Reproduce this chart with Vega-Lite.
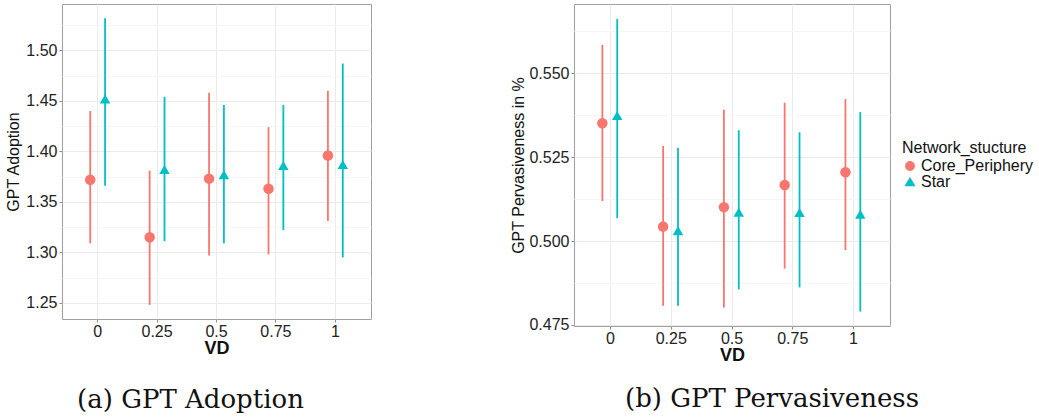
{
  "$schema": "https://vega.github.io/schema/vega-lite/v6.json",
  "background": "white",
  "padding": {"left": 5, "top": 3, "right": 0, "bottom": 0},
  "spacing": 138,
  "config": {
    "font": "Liberation Sans",
    "view": {"stroke": "#a0a0a0", "strokeWidth": 1},
    "axis": {"domain": false, "tickColor": "#8a8a8a", "tickSize": 3, "labelFontSize": 16, "labelColor": "#222", "titleFontSize": 16, "titleColor": "#111", "titleFontWeight": "normal", "gridColor": "#EBEBEB", "gridWidth": 1}
  },
  "datasets": {
    "adoption": [
      {"VD": "0", "Network": "Core_Periphery", "mean": 1.372, "lo": 1.309, "hi": 1.440},
      {"VD": "0", "Network": "Star", "mean": 1.452, "lo": 1.366, "hi": 1.532},
      {"VD": "0.25", "Network": "Core_Periphery", "mean": 1.315, "lo": 1.248, "hi": 1.381},
      {"VD": "0.25", "Network": "Star", "mean": 1.382, "lo": 1.311, "hi": 1.454},
      {"VD": "0.5", "Network": "Core_Periphery", "mean": 1.373, "lo": 1.297, "hi": 1.458},
      {"VD": "0.5", "Network": "Star", "mean": 1.377, "lo": 1.309, "hi": 1.446},
      {"VD": "0.75", "Network": "Core_Periphery", "mean": 1.363, "lo": 1.298, "hi": 1.424},
      {"VD": "0.75", "Network": "Star", "mean": 1.386, "lo": 1.322, "hi": 1.446},
      {"VD": "1", "Network": "Core_Periphery", "mean": 1.396, "lo": 1.331, "hi": 1.460},
      {"VD": "1", "Network": "Star", "mean": 1.387, "lo": 1.295, "hi": 1.487}
    ],
    "pervasiveness": [
      {"VD": "0", "Network": "Core_Periphery", "mean": 0.5351, "lo": 0.5119, "hi": 0.5584},
      {"VD": "0", "Network": "Star", "mean": 0.5374, "lo": 0.5068, "hi": 0.5661},
      {"VD": "0.25", "Network": "Core_Periphery", "mean": 0.5043, "lo": 0.4807, "hi": 0.5283},
      {"VD": "0.25", "Network": "Star", "mean": 0.5031, "lo": 0.4807, "hi": 0.5278},
      {"VD": "0.5", "Network": "Core_Periphery", "mean": 0.5101, "lo": 0.4802, "hi": 0.5391},
      {"VD": "0.5", "Network": "Star", "mean": 0.5086, "lo": 0.4856, "hi": 0.5330},
      {"VD": "0.75", "Network": "Core_Periphery", "mean": 0.5167, "lo": 0.4918, "hi": 0.5412},
      {"VD": "0.75", "Network": "Star", "mean": 0.5085, "lo": 0.4862, "hi": 0.5324},
      {"VD": "1", "Network": "Core_Periphery", "mean": 0.5205, "lo": 0.4973, "hi": 0.5423},
      {"VD": "1", "Network": "Star", "mean": 0.5080, "lo": 0.4790, "hi": 0.5384}
    ]
  },
  "resolve": {"legend": {"color": "independent", "shape": "independent"}},
  "hconcat": [
    {
      "width": 309,
      "height": 315,
      "data": {"name": "adoption"},
      "title": {"text": "(a) GPT Adoption", "orient": "bottom", "font": "DejaVu Serif", "fontSize": 26, "fontWeight": "normal", "color": "#111", "offset": 30, "anchor": "middle", "frame": "group", "dx": -26},
      "encoding": {
        "x": {"field": "VD", "type": "ordinal", "sort": ["0", "0.25", "0.5", "0.75", "1"], "scale": {"type": "band", "paddingInner": 0, "paddingOuter": 0.1}, "axis": {"title": "VD", "labelAngle": 0, "titleFontWeight": "bold", "titleFontSize": 18, "grid": true, "titlePadding": 0, "labelPadding": 1}},
        "xOffset": {"field": "Network", "type": "nominal", "scale": {"paddingInner": 0, "paddingOuter": 1}},
        "color": {"field": "Network", "type": "nominal", "scale": {"domain": ["Core_Periphery", "Star"], "range": ["#F8766D", "#00BFC4"]}, "legend": null}
      },
      "layer": [
        {
          "mark": {"type": "rule", "strokeWidth": 1.8},
          "encoding": {
            "y": {"field": "lo", "type": "quantitative", "scale": {"domain": [1.234, 1.546], "nice": false, "zero": false}, "axis": {"orient": "left", "values": [1.275, 1.325, 1.375, 1.425, 1.475, 1.525], "grid": true, "gridColor": "#F6F6F6", "labels": false, "ticks": false, "title": null}},
            "y2": {"field": "hi"}
          }
        },
        {
          "mark": {"type": "point", "filled": true, "size": 110, "opacity": 1},
          "encoding": {
            "y": {"field": "mean", "type": "quantitative", "axis": {"orient": "left", "title": "GPT Adoption", "values": [1.25, 1.30, 1.35, 1.40, 1.45, 1.50], "format": ".2f", "grid": true, "titlePadding": 4, "labelPadding": 2}},
            "shape": {"field": "Network", "type": "nominal", "scale": {"domain": ["Core_Periphery", "Star"], "range": ["circle", "triangle-up"]}, "legend": null}
          }
        }
      ],
      "resolve": {"axis": {"y": "independent"}}
    },
    {
      "width": 316,
      "height": 322,
      "data": {"name": "pervasiveness"},
      "title": {"text": "(b) GPT Pervasiveness", "orient": "bottom", "font": "DejaVu Serif", "fontSize": 26, "fontWeight": "normal", "color": "#111", "offset": 22, "anchor": "middle", "frame": "group", "dx": 40},
      "encoding": {
        "x": {"field": "VD", "type": "ordinal", "sort": ["0", "0.25", "0.5", "0.75", "1"], "scale": {"type": "band", "paddingInner": 0, "paddingOuter": 0.1}, "axis": {"title": "VD", "labelAngle": 0, "titleFontWeight": "bold", "titleFontSize": 18, "grid": true, "titlePadding": 0, "labelPadding": 1}},
        "xOffset": {"field": "Network", "type": "nominal", "scale": {"paddingInner": 0, "paddingOuter": 1}},
        "color": {"field": "Network", "type": "nominal", "scale": {"domain": ["Core_Periphery", "Star"], "range": ["#F8766D", "#00BFC4"]}, "legend": {"title": "Network_stucture", "orient": "none", "legendX": 328, "legendY": 136, "titleFontSize": 16, "titleFontWeight": "normal", "titleColor": "#111", "labelFontSize": 16, "labelColor": "#111", "symbolSize": 70, "rowPadding": -2, "titlePadding": 2, "labelOffset": 3}}
      },
      "layer": [
        {
          "mark": {"type": "rule", "strokeWidth": 1.8},
          "encoding": {
            "y": {"field": "lo", "type": "quantitative", "scale": {"domain": [0.4747, 0.5706], "nice": false, "zero": false}, "axis": {"orient": "left", "values": [0.4875, 0.5125, 0.5375, 0.5625], "grid": true, "gridColor": "#F6F6F6", "labels": false, "ticks": false, "title": null}},
            "y2": {"field": "hi"}
          }
        },
        {
          "mark": {"type": "point", "filled": true, "size": 110, "opacity": 1},
          "encoding": {
            "y": {"field": "mean", "type": "quantitative", "axis": {"orient": "left", "title": "GPT Pervasiveness in %", "values": [0.475, 0.5, 0.525, 0.55], "format": ".3f", "grid": true, "titlePadding": 2, "labelPadding": 2}},
            "shape": {"field": "Network", "type": "nominal", "scale": {"domain": ["Core_Periphery", "Star"], "range": ["circle", "triangle-up"]}, "legend": {"title": "Network_stucture", "orient": "none", "legendX": 328, "legendY": 136, "titleFontSize": 16, "titleFontWeight": "normal", "titleColor": "#111", "labelFontSize": 16, "labelColor": "#111", "symbolSize": 70, "rowPadding": -2, "titlePadding": 2, "labelOffset": 3}}
          }
        }
      ],
      "resolve": {"axis": {"y": "independent"}}
    }
  ]
}
